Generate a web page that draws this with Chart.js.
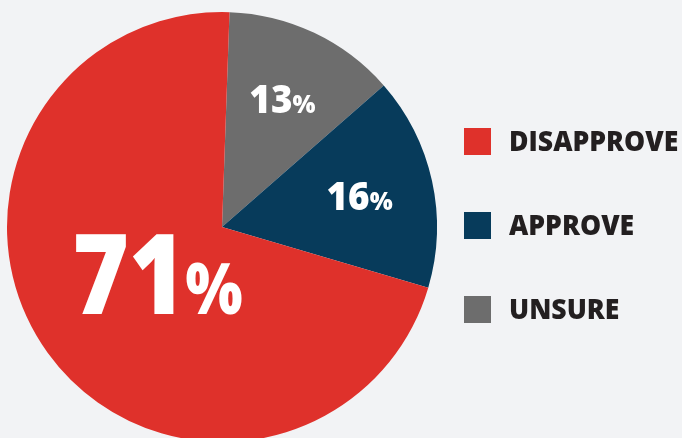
<!DOCTYPE html>
<html>
<head>
<meta charset="utf-8">
<script src="https://cdn.jsdelivr.net/npm/chart.js@4.4.1/dist/chart.umd.min.js"></script>
<style>
  html, body { margin: 0; padding: 0; background: #f2f3f5; overflow: hidden; }
  canvas { display: block; }
</style>
</head>
<body>
<canvas id="pieChart" width="682" height="442"></canvas>
<script>
// slices clockwise from the top
const categories = ['UNSURE', 'APPROVE', 'DISAPPROVE'];
const shares = [13, 16, 71];
// legend reads top to bottom
const legendOrder = ['DISAPPROVE', 'APPROVE', 'UNSURE'];

const sliceColors = { UNSURE: '#6d6d6d', APPROVE: '#073b5b', DISAPPROVE: '#df312b' };

// draws "71%" style labels inside each slice
const sliceLabels = {
    id: 'sliceLabels',
    afterDatasetsDraw(chart) {
        const ctx = chart.ctx;
        const meta = chart.getDatasetMeta(0);
        meta.data.forEach((arc, i) => {
            const v = shares[i];
            const big = v > 50;
            const numSize = big ? 112 : 38;
            const pctSize = big ? 70 : 25;
            const dist = big ? 0.37 : 0.655;
            const mid = (arc.startAngle + arc.endAngle) / 2;
            const cx = arc.x + Math.cos(mid) * arc.outerRadius * dist;
            const cy = arc.y + Math.sin(mid) * arc.outerRadius * dist;

            ctx.save();
            ctx.fillStyle = '#ffffff';
            ctx.textBaseline = 'alphabetic';
            ctx.textAlign = 'left';
            const numFont = '800 ' + numSize + 'px "Open Sans"';
            const pctFont = '800 ' + pctSize + 'px "Open Sans"';
            ctx.font = numFont;
            const numW = ctx.measureText(String(v)).width;
            ctx.font = pctFont;
            const pctW = ctx.measureText('%').width;
            const sx = big ? 0.86 : 0.97;
            const total = (numW + pctW) * sx;
            const base = cy + numSize * 0.714 / 2;
            ctx.translate(cx - total / 2, base);
            ctx.scale(sx, 1);
            ctx.font = numFont;
            ctx.fillText(String(v), 0, 0);
            ctx.font = pctFont;
            ctx.fillText('%', numW, 0);
            ctx.restore();
        });
    }
};

const sideLegend = {
    id: 'sideLegend',
    afterDraw(chart) {
        const ctx = chart.ctx;
        ctx.save();
        legendOrder.forEach((name, i) => {
            const top = 128 + i * 84;
            ctx.fillStyle = sliceColors[name];
            ctx.fillRect(464, top, 27, 27);
            ctx.fillStyle = '#231f20';
            ctx.font = '800 28px "Open Sans"';
            ctx.textBaseline = 'alphabetic';
            ctx.save();
            ctx.translate(509, top + 13.5 + 28 * 0.714 / 2);
            ctx.scale(0.95, 1);
            ctx.fillText(name, 0, 0);
            ctx.restore();
        });
        ctx.restore();
    }
};

new Chart(document.getElementById('pieChart'), {
    type: 'pie',
    data: {
        labels: categories,
        datasets: [{
            data: shares,
            backgroundColor: categories.map(c => sliceColors[c]),
            borderWidth: 0
        }]
    },
    options: {
        responsive: false,
        animation: false,
        rotation: 2,
        layout: { padding: { left: 7, right: 245, top: 12, bottom: 0 } },
        plugins: {
            legend: { display: false },
            tooltip: { enabled: false }
        }
    },
    plugins: [sliceLabels, sideLegend]
});
</script>
</body>
</html>
